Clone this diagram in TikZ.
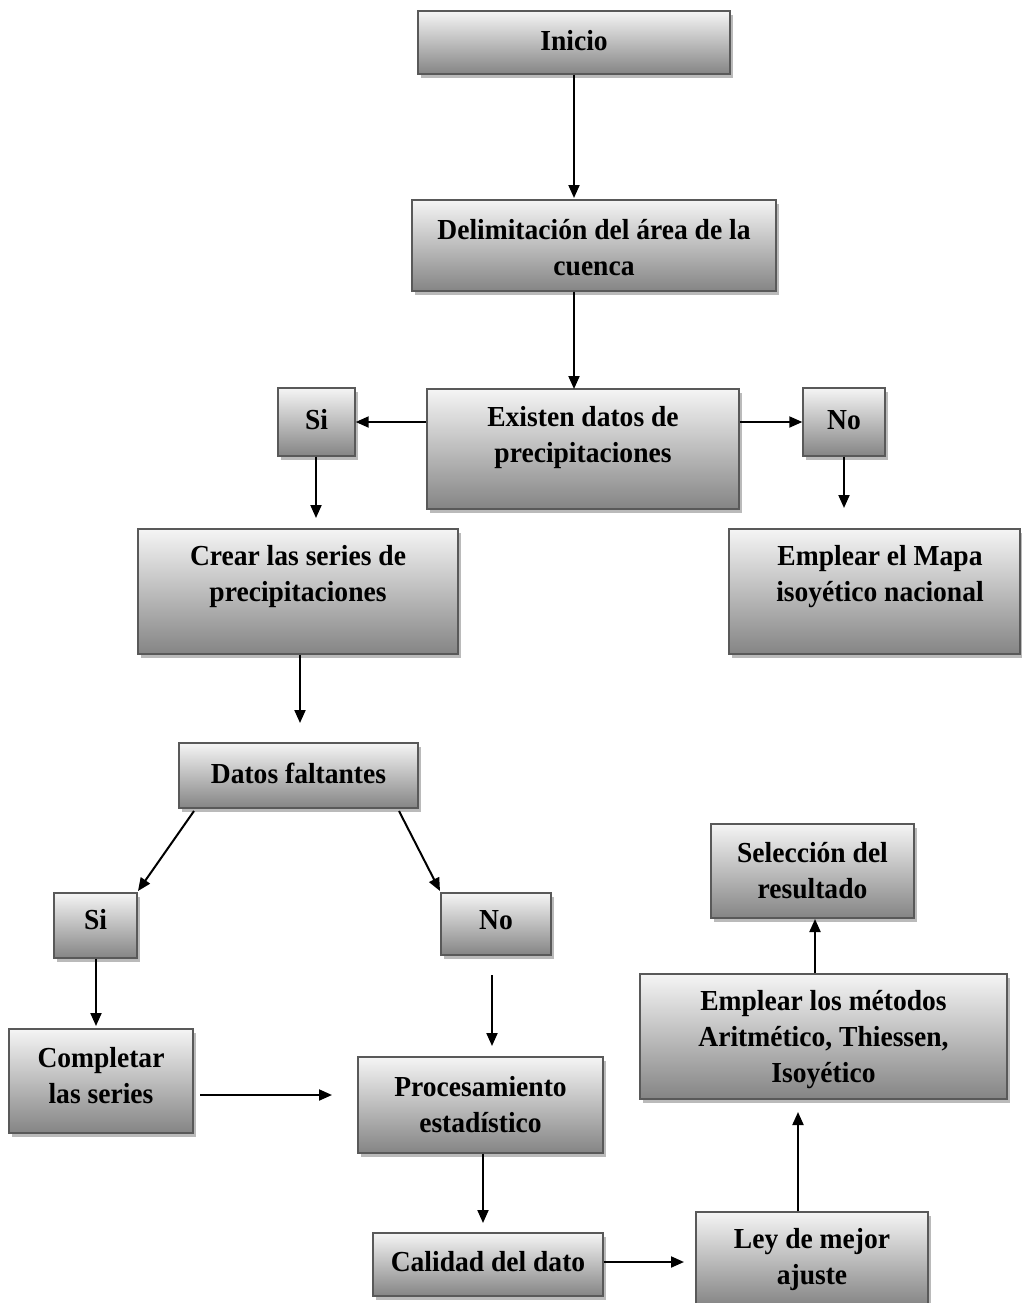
\documentclass[tikz,border=0pt]{standalone}
\usepackage{fontspec}
\setmainfont{Liberation Serif}[FakeStretch=0.95]
\usetikzlibrary{shadows,arrows.meta}
\begin{document}
\begin{tikzpicture}[x=1pt,y=-1pt,
  box/.style={draw=black!65, line width=1.4pt, top color=black!4, bottom color=black!48,
    drop shadow={shadow xshift=3pt, shadow yshift=-4pt, fill=black!45, opacity=0.6},
    inner sep=0pt, align=center},
  txt/.style={align=center, font=\fontsize{29}{36}\selectfont\bfseries, inner sep=0pt},
  arr/.style={line width=2pt, -{Triangle[length=13pt,width=11pt]}}]
\useasboundingbox (0,0) rectangle (1022,1303);
\fill[white] (0,0) rectangle (1022,1303);
% boxes
\node[box, minimum width=312, minimum height=63] (inicio) at (574,42.5) {};
\node[txt] (inicioT) at (574,41) {Inicio};
\node[box, minimum width=364, minimum height=91] (delim) at (594,245.5) {};
\node[txt] (delimT) at (594,248) {Delimitación del área de la\\cuenca};
\node[box, minimum width=312, minimum height=120] (existen) at (583,449) {};
\node[txt] (existenT) at (583,438) {Existen datos de\\precipitaciones};
\node[box, minimum width=77, minimum height=68] (si1) at (316.5,422) {};
\node[txt] (si1T) at (316.5,420) {Si};
\node[box, minimum width=82, minimum height=68] (no1) at (844,422) {};
\node[txt] (no1T) at (844,420) {No};
\node[box, minimum width=320, minimum height=125] (crear) at (298,591.5) {};
\node[txt] (crearT) at (298,577) {Crear las series de\\precipitaciones};
\node[box, minimum width=291, minimum height=125] (mapa) at (874.5,591.5) {};
\node[txt] (mapaT) at (880,577) {Emplear el Mapa\\isoyético nacional};
\node[box, minimum width=239, minimum height=65] (faltan) at (298.5,775.5) {};
\node[txt] (faltanT) at (298.5,773) {Datos faltantes};
\node[box, minimum width=83, minimum height=65] (si2) at (95.5,925.5) {};
\node[txt] (si2T) at (95.5,920) {Si};
\node[box, minimum width=110, minimum height=62] (no2) at (496,924) {};
\node[txt] (no2T) at (496,920) {No};
\node[box, minimum width=184, minimum height=104] (compl) at (101,1081) {};
\node[txt] (complT) at (101,1076) {Completar\\las series};
\node[box, minimum width=245, minimum height=96] (proc) at (480.5,1105) {};
\node[txt] (procT) at (480.5,1105) {Procesamiento\\estadístico};
\node[box, minimum width=230, minimum height=63] (calid) at (488,1264.5) {};
\node[txt] (calidT) at (488,1262) {Calidad del dato};
\node[box, minimum width=232, minimum height=94] (ley) at (812,1259) {};
\node[txt] (leyT) at (812,1260) {Ley de mejor\\ajuste};
\node[box, minimum width=367, minimum height=125] (metod) at (823.5,1036.5) {};
\node[txt] (metodT) at (823.5,1040) {Emplear los métodos\\Aritmético, Thiessen,\\Isoyético};
\node[box, minimum width=203, minimum height=94] (selec) at (812.5,871) {};
\node[txt] (selecT) at (812.5,871) {Selección del\\resultado};
% free arrow ends
\coordinate (e1) at (574,198);
\coordinate (e2) at (574,389);
\coordinate (e3) at (316,518);
\coordinate (e4) at (844,508);
\coordinate (e5) at (300,723);
\coordinate (s6) at (194,811);
\coordinate (e6) at (138,891);
\coordinate (s7) at (399,811);
\coordinate (e7) at (440,891);
\coordinate (e8) at (96,1026);
\coordinate (s9) at (492,975);
\coordinate (e9) at (492,1046);
\coordinate (s10) at (200,1095);
\coordinate (e10) at (332,1095);
\coordinate (e11) at (483,1223);
\coordinate (e12) at (684,1262);
\coordinate (e13) at (798,1112);
\coordinate (e14) at (815,919);
% connectors
\draw[arr] (inicio.south -| e1) -- (e1);
\draw[arr] (delim.south -| e2) -- (e2);
\draw[arr] (existen.west |- si1) -- (si1.east);
\draw[arr] (existen.east |- no1) -- (no1.west);
\draw[arr] (si1.south -| e3) -- (e3);
\draw[arr] (no1.south) -- (e4);
\draw[arr] (crear.south -| e5) -- (e5);
\draw[arr] (s6) -- (e6);
\draw[arr] (s7) -- (e7);
\draw[arr] (si2.south -| e8) -- (e8);
\draw[arr] (s9) -- (e9);
\draw[arr] (s10) -- (e10);
\draw[arr] (proc.south -| e11) -- (e11);
\draw[arr] (calid.east |- e12) -- (e12);
\draw[arr] (ley.north -| e13) -- (e13);
\draw[arr] (metod.north -| e14) -- (e14);
\end{tikzpicture}
\end{document}
